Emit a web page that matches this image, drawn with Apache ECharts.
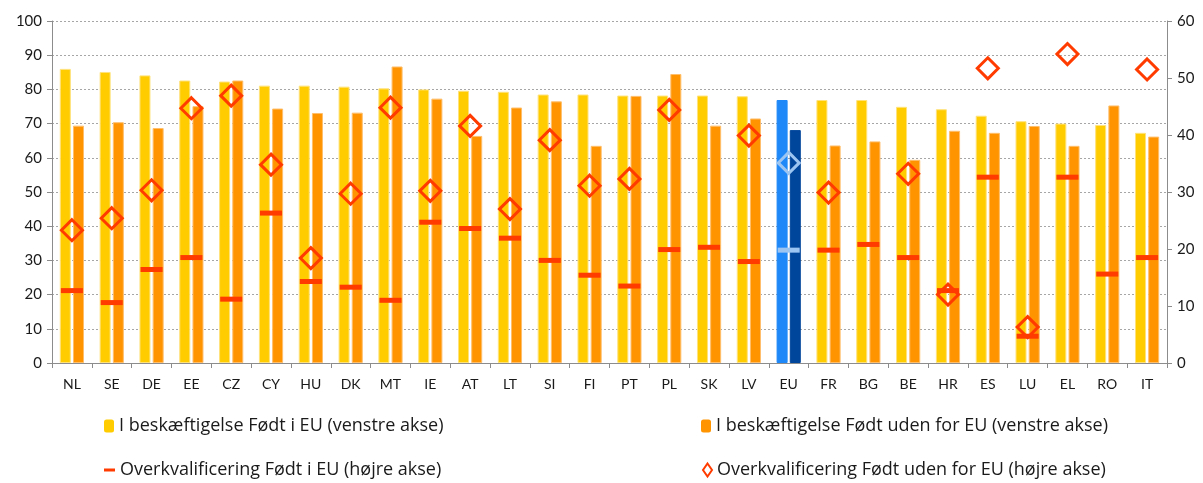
<!DOCTYPE html>
<html>
<head>
<meta charset="utf-8">
<script src="https://cdn.jsdelivr.net/npm/echarts@6/dist/echarts.min.js"></script>
<style>
  html, body { margin: 0; padding: 0; background: #ffffff; }
  #chart { width: 1203px; height: 483px; }
</style>
</head>
<body>
<div id="chart"></div>
<script>
// Countries (EU average in the middle)
const categories = ['NL','SE','DE','EE','CZ','CY','HU','DK','MT','IE','AT','LT','SI','FI','PT','PL','SK','LV','EU','FR','BG','BE','HR','ES','LU','EL','RO','IT'];

// Employment rate, born in EU (left axis, %)
const employedBornEU = [86.0,85.1,84.1,82.6,82.3,81.1,81.1,80.8,80.3,80.0,79.6,79.3,78.5,78.5,78.2,78.2,78.2,78.0,76.9,76.9,76.9,74.9,74.2,72.3,70.7,70.0,69.6,67.3];

// Employment rate, born outside EU (left axis, %)
const employedBornNonEU = [69.4,70.4,68.7,75.1,82.6,74.4,73.1,73.2,86.7,77.3,66.4,74.7,76.5,63.5,78.1,84.5,69.4,71.5,68.1,63.6,64.8,59.4,67.9,67.3,69.3,63.5,75.3,66.2];

// Over-qualification rate, born in EU (right axis, %)
const overqualBornEU = [12.7,10.6,16.4,18.5,11.2,26.3,14.3,13.3,11.0,24.7,23.6,21.9,18.0,15.4,13.5,19.9,20.3,17.8,19.8,19.8,20.8,18.5,12.7,32.6,4.7,32.6,15.6,18.5];

// Over-qualification rate, born outside EU (right axis, %); no value for SK, BG, RO
const overqualBornNonEU = [23.3,25.4,30.3,44.7,46.9,34.8,18.4,29.7,44.8,30.2,41.6,27.0,39.1,31.1,32.3,44.4,null,39.9,35.1,29.9,null,33.2,12.0,51.7,6.3,54.2,null,51.5];

const leftTicks = { min: 0, max: 100, interval: 10 };
const rightTicks = { min: 0, max: 60, interval: 10 };

const seriesNames = [
  'I beskæftigelse Født i EU (venstre akse)',
  'I beskæftigelse Født uden for EU (venstre akse)',
  'Overkvalificering Født i EU (højre akse)',
  'Overkvalificering Født uden for EU (højre akse)'
];

const C = {
  yellow: '#FFCC00', yellowEdge: '#FFE27A',
  orange: '#FF9400', orangeEdge: '#FFBE6A',
  euLight: '#1E88F8', euDark: '#00469B',
  red: '#FF3B00', euMark: '#9DC5F2',
  grid: '#A6A6A6', axis: '#8C8C8C', text: '#1a1a1a'
};
const FONT = 'Lato, "Open Sans", sans-serif';
const LEGEND_FONT = '"Open Sans", Lato, sans-serif';
const euIdx = categories.indexOf('EU');

function withEU(values, euStyle) {
  return values.map((v, i) => i === euIdx ? { value: v, itemStyle: euStyle } : v);
}

const chart = echarts.init(document.getElementById('chart'), null, { renderer: 'canvas' });

function legendAt(name, left, top, w, h, itemStyle) {
  const item = itemStyle ? { name: name, itemStyle: itemStyle } : name;
  return {
    data: [item], left: left, top: top, itemWidth: w, itemHeight: h, itemGap: 0,
    selectedMode: false, padding: 0,
    textStyle: { fontFamily: LEGEND_FONT, fontSize: 18, color: C.text }
  };
}

chart.setOption({
  animation: false,
  backgroundColor: '#ffffff',
  textStyle: { fontFamily: FONT },
  grid: { left: 52, right: 36, top: 21, bottom: 120 },
  legend: [
    legendAt(seriesNames[0], 104, 417, 10, 13, { color: C.yellow, borderWidth: 0 }),
    legendAt(seriesNames[1], 701, 417, 10, 13, { color: C.orange, borderWidth: 0 }),
    legendAt(seriesNames[2], 104, 461, 11, 3),
    legendAt(seriesNames[3], 702, 461, 9, 13, { color: 'rgba(0,0,0,0)', borderColor: C.red, borderWidth: 2 })
  ],
  xAxis: {
    type: 'category',
    data: categories,
    axisLine: { lineStyle: { color: C.axis, width: 1 } },
    axisTick: { show: true, length: 5, alignWithLabel: false, lineStyle: { color: C.axis } },
    axisLabel: { color: C.text, fontSize: 14, margin: 14, interval: 0, fontFamily: FONT }
  },
  yAxis: [
    {
      type: 'value', position: 'left',
      min: leftTicks.min, max: leftTicks.max, interval: leftTicks.interval,
      axisLine: { show: true, lineStyle: { color: C.axis } },
      axisTick: { show: true, length: 5, lineStyle: { color: C.axis } },
      axisLabel: { color: C.text, fontSize: 15, margin: 10, fontFamily: FONT },
      splitLine: { show: true, lineStyle: { color: C.grid, type: [2, 2], width: 1 } }
    },
    {
      type: 'value', position: 'right',
      min: rightTicks.min, max: rightTicks.max, interval: rightTicks.interval,
      axisLine: { show: true, lineStyle: { color: C.axis } },
      axisTick: { show: true, length: 5, lineStyle: { color: C.axis } },
      axisLabel: { color: C.text, fontSize: 15, margin: 10, fontFamily: FONT },
      splitLine: { show: false }
    }
  ],
  series: [
    {
      name: seriesNames[0], type: 'bar', yAxisIndex: 0,
      barWidth: 11, barGap: '20%',
      itemStyle: { color: C.yellow, borderColor: C.yellowEdge, borderWidth: 1 },
      data: withEU(employedBornEU, { color: C.euLight, borderColor: C.euLight })
    },
    {
      name: seriesNames[1], type: 'bar', yAxisIndex: 0,
      barWidth: 11, barGap: '20%',
      itemStyle: { color: C.orange, borderColor: C.orangeEdge, borderWidth: 1 },
      data: withEU(employedBornNonEU, { color: C.euDark, borderColor: C.euDark })
    },
    {
      name: seriesNames[2], type: 'scatter', yAxisIndex: 1,
      symbol: 'rect', symbolSize: [22, 5], z: 5,
      itemStyle: { color: C.red, opacity: 1 },
      data: withEU(overqualBornEU, { color: C.euMark })
    },
    {
      name: seriesNames[3], type: 'scatter', yAxisIndex: 1,
      symbol: 'diamond', symbolSize: [21, 21], z: 6,
      itemStyle: { color: 'rgba(0,0,0,0)', borderColor: C.red, borderWidth: 3, opacity: 1 },
      data: withEU(overqualBornNonEU, { color: 'rgba(0,0,0,0)', borderColor: C.euMark })
    }
  ]
});
</script>
</body>
</html>
